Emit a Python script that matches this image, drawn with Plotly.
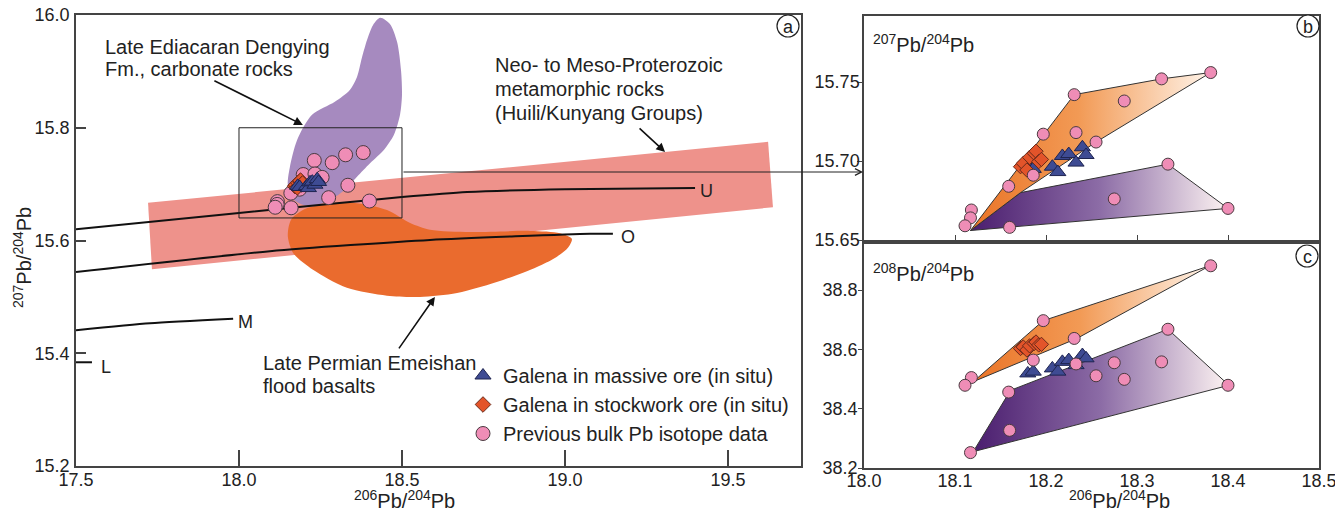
import plotly.graph_objects as go

# page body has an 8 px margin: the figure is sized to fill the rest of the window
OFF = 8
W, H = 1343 - OFF, 511 - OFF
FONT = "Arial, Liberation Sans, sans-serif"
INK = "#222222"

# ---------------- data ----------------
# previous bulk Pb isotope data (206/204, 207/204, 208/204)
circle_x = [18.381, 18.327, 18.231, 18.286, 18.197, 18.233, 18.255, 18.334,
            18.186, 18.159, 18.275, 18.400, 18.118, 18.117, 18.111, 18.160]
circle_y207 = [15.756, 15.752, 15.742, 15.738, 15.717, 15.718, 15.712, 15.698,
               15.691, 15.684, 15.676, 15.670, 15.669, 15.664, 15.659, 15.658]
circle_y208 = [38.882, 38.558, 38.637, 38.499, 38.697, 38.551, 38.511, 38.668,
               38.564, 38.456, 38.555, 38.479, 38.505, 38.252, 38.479, 38.327]

# galena in massive ore (in situ)
tri_x = [18.180, 18.186, 18.207, 18.213, 18.218, 18.225, 18.233, 18.240, 18.244]
tri_y207 = [15.6970, 15.6950, 15.6964, 15.6930, 15.7032, 15.7044, 15.6990, 15.7087, 15.7038]
tri_y208 = [38.519, 38.525, 38.536, 38.525, 38.558, 38.564, 38.547, 38.581, 38.570]

# galena in stockwork ore (in situ)
dia_x = [18.172, 18.175, 18.179, 18.182, 18.187, 18.189, 18.192, 18.195]
dia_y207 = [15.6964, 15.6985, 15.6943, 15.7023, 15.7049, 15.7062, 15.6996, 15.7010]
dia_y208 = [38.603, 38.608, 38.598, 38.612, 38.620, 38.625, 38.615, 38.617]

# fields of panel (a)
band_x = [17.721, 17.733, 19.638, 19.623, 17.721]
band_y = [15.667, 15.549, 15.659, 15.775, 15.667]

dengying_x = [18.433, 18.463, 18.485, 18.497, 18.500, 18.494, 18.475, 18.445, 18.402,
              18.362, 18.325, 18.279, 18.218, 18.169, 18.150, 18.156, 18.178, 18.224,
              18.294, 18.340, 18.362, 18.377, 18.393, 18.411, 18.433]
dengying_y = [15.995, 15.984, 15.952, 15.902, 15.858, 15.823, 15.787, 15.761, 15.737,
              15.713, 15.690, 15.672, 15.661, 15.672, 15.698, 15.730, 15.778, 15.823,
              15.846, 15.867, 15.890, 15.924, 15.956, 15.982, 15.995]

emeishan_x = [18.163, 18.202, 18.248, 18.350, 18.454, 18.525, 18.586, 18.709, 18.893,
              18.985, 19.021, 19.009, 18.969, 18.914, 18.810, 18.669, 18.555, 18.454,
              18.331, 18.227, 18.166, 18.150, 18.153, 18.163]
emeishan_y = [15.640, 15.656, 15.663, 15.667, 15.654, 15.631, 15.619, 15.615, 15.617,
              15.613, 15.603, 15.587, 15.569, 15.553, 15.530, 15.507, 15.500, 15.502,
              15.516, 15.548, 15.578, 15.606, 15.626, 15.640]

# growth curves
curve_U_x = [17.5, 18.0, 18.3, 18.5, 18.7, 19.0, 19.399]
curve_U_y = [15.620, 15.649, 15.666, 15.677, 15.686, 15.691, 15.693]
curve_O_x = [17.5, 18.095, 18.586, 19.077, 19.147]
curve_O_y = [15.544, 15.581, 15.601, 15.612, 15.612]
curve_M_x = [17.5, 17.727, 17.982]
curve_M_y = [15.441, 15.453, 15.461]
curve_L_x = [17.5, 17.549]
curve_L_y = [15.384, 15.384]

zoom_box_x = [18.0, 18.5]
zoom_box_y = [15.64, 15.80]

# hull fields of panels (b) and (c)
b_orange_x = [18.117, 18.231, 18.327, 18.381, 18.255, 18.172, 18.117]
b_orange_y = [15.656, 15.742, 15.752, 15.756, 15.712, 15.680, 15.656]
b_purple_x = [18.117, 18.172, 18.334, 18.400, 18.117]
b_purple_y = [15.656, 15.680, 15.698, 15.670, 15.656]
c_orange_x = [18.120, 18.197, 18.380, 18.234, 18.120]
c_orange_y = [38.491, 38.697, 38.882, 38.637, 38.491]
c_purple_x = [18.120, 18.161, 18.334, 18.401, 18.120]
c_purple_y = [38.255, 38.462, 38.668, 38.479, 38.255]

# ---------------- styles ----------------
PINK = "#EF8DB6"
TRI = "#3E4B93"
DIA = "#E3542A"
ORANGE_GRAD = [[0, "#EA7427"], [0.45, "#F29A55"], [1, "#FFF4EA"]]
PURPLE_GRAD = [[0, "#4A1D6E"], [0.5, "#8C6CA6"], [1, "#FDF3F2"]]

fig = go.Figure()

def px_x(p):
    return (p - OFF) / W

def px_y(p):
    return 1 - (p - OFF) / H

# ---------- panel (a) ----------
fig.add_trace(go.Scatter(x=band_x, y=band_y, fill="toself", mode="lines",
                         line=dict(width=0), fillcolor="#EE928B",
                         showlegend=False, hoverinfo="skip", xaxis="x", yaxis="y"))
fig.add_trace(go.Scatter(x=dengying_x, y=dengying_y, fill="toself", mode="lines",
                         line=dict(width=0, shape="spline", smoothing=0.8),
                         fillcolor="#A68ABF",
                         showlegend=False, hoverinfo="skip", xaxis="x", yaxis="y"))
fig.add_trace(go.Scatter(x=emeishan_x, y=emeishan_y, fill="toself", mode="lines",
                         line=dict(width=0, shape="spline", smoothing=0.8),
                         fillcolor="#EA6B2E",
                         showlegend=False, hoverinfo="skip", xaxis="x", yaxis="y"))
for cx, cy in [(curve_U_x, curve_U_y), (curve_O_x, curve_O_y),
               (curve_M_x, curve_M_y), (curve_L_x, curve_L_y)]:
    fig.add_trace(go.Scatter(x=cx, y=cy, mode="lines",
                             line=dict(color="#111111", width=2, shape="spline",
                                       smoothing=0.6),
                             showlegend=False, hoverinfo="skip", xaxis="x", yaxis="y"))

fig.add_trace(go.Scatter(x=circle_x, y=circle_y207, mode="markers",
                         name="Previous bulk Pb isotope data", legendrank=3,
                         marker=dict(symbol="circle", size=14, color=PINK,
                                     line=dict(color="#4a3a40", width=1)),
                         xaxis="x", yaxis="y"))
fig.add_trace(go.Scatter(x=dia_x, y=dia_y207, mode="markers",
                         name="Galena in stockwork ore (in situ)", legendrank=2,
                         marker=dict(symbol="diamond", size=12, color=DIA,
                                     line=dict(color="#6a2a1a", width=1)),
                         xaxis="x", yaxis="y"))
fig.add_trace(go.Scatter(x=tri_x, y=tri_y207, mode="markers",
                         name="Galena in massive ore (in situ)", legendrank=1,
                         marker=dict(symbol="triangle-up", size=14, color=TRI,
                                     line=dict(color="#1e2450", width=1)),
                         xaxis="x", yaxis="y"))

# ---------- panel (b) ----------
fig.add_trace(go.Scatter(x=b_purple_x, y=b_purple_y, fill="toself", mode="lines",
                         line=dict(color="#333333", width=1),
                         fillgradient=dict(type="horizontal", colorscale=PURPLE_GRAD),
                         showlegend=False, hoverinfo="skip", xaxis="x2", yaxis="y2"))
fig.add_trace(go.Scatter(x=b_orange_x, y=b_orange_y, fill="toself", mode="lines",
                         line=dict(color="#333333", width=1),
                         fillgradient=dict(type="horizontal", colorscale=ORANGE_GRAD),
                         showlegend=False, hoverinfo="skip", xaxis="x2", yaxis="y2"))
fig.add_trace(go.Scatter(x=tri_x, y=tri_y207, mode="markers", showlegend=False,
                         marker=dict(symbol="triangle-up", size=14, color=TRI,
                                     line=dict(color="#1e2450", width=1)),
                         xaxis="x2", yaxis="y2"))
fig.add_trace(go.Scatter(x=dia_x, y=dia_y207, mode="markers", showlegend=False,
                         marker=dict(symbol="diamond", size=11, color=DIA,
                                     line=dict(color="#6a2a1a", width=1)),
                         xaxis="x2", yaxis="y2"))
fig.add_trace(go.Scatter(x=circle_x, y=circle_y207, mode="markers", showlegend=False,
                         marker=dict(symbol="circle", size=12, color=PINK,
                                     line=dict(color="#4a3a40", width=1)),
                         xaxis="x2", yaxis="y2"))

# ---------- panel (c) ----------
fig.add_trace(go.Scatter(x=c_purple_x, y=c_purple_y, fill="toself", mode="lines",
                         line=dict(color="#333333", width=1),
                         fillgradient=dict(type="horizontal", colorscale=PURPLE_GRAD),
                         showlegend=False, hoverinfo="skip", xaxis="x3", yaxis="y3"))
fig.add_trace(go.Scatter(x=c_orange_x, y=c_orange_y, fill="toself", mode="lines",
                         line=dict(color="#333333", width=1),
                         fillgradient=dict(type="horizontal", colorscale=ORANGE_GRAD),
                         showlegend=False, hoverinfo="skip", xaxis="x3", yaxis="y3"))
fig.add_trace(go.Scatter(x=tri_x, y=tri_y208, mode="markers", showlegend=False,
                         marker=dict(symbol="triangle-up", size=14, color=TRI,
                                     line=dict(color="#1e2450", width=1)),
                         xaxis="x3", yaxis="y3"))
fig.add_trace(go.Scatter(x=dia_x, y=dia_y208, mode="markers", showlegend=False,
                         marker=dict(symbol="diamond", size=11, color=DIA,
                                     line=dict(color="#6a2a1a", width=1)),
                         xaxis="x3", yaxis="y3"))
fig.add_trace(go.Scatter(x=circle_x, y=circle_y208, mode="markers", showlegend=False,
                         marker=dict(symbol="circle", size=12, color=PINK,
                                     line=dict(color="#4a3a40", width=1)),
                         xaxis="x3", yaxis="y3"))

# ---------------- axes ----------------
tickfont = dict(family=FONT, size=18, color=INK)
axline = dict(showline=True, linecolor="#444444", linewidth=1.5, mirror=True,
              showgrid=False, zeroline=False, tickcolor="#444444", tickfont=tickfont,
              automargin=False, ticklabeloverflow="allow")

fig.update_layout(
    xaxis=dict(domain=[px_x(76), px_x(801)], range=[17.5, 19.724], anchor="y",
               tickvals=[17.5, 18.0, 18.5, 19.0, 19.5], tickformat=".1f",
               ticks="inside", ticklen=16, tickwidth=1.5, ticklabelstandoff=-3, **axline),
    yaxis=dict(domain=[px_y(466), px_y(15)], range=[15.2, 16.0], anchor="x",
               tickvals=[15.2, 15.4, 15.6, 15.8, 16.0], tickformat=".1f",
               ticks="inside", ticklen=10, tickwidth=1.5, ticklabelstandoff=1, **axline),
    xaxis2=dict(domain=[px_x(864), px_x(1319)], range=[18.0, 18.5], anchor="y2",
                tickvals=[18.1, 18.2, 18.3, 18.4], showticklabels=False,
                ticks="inside", ticklen=5, tickwidth=1, **axline),
    yaxis2=dict(domain=[px_y(240), px_y(16)], range=[15.65, 15.7918], anchor="x2",
                tickvals=[15.65, 15.70, 15.75], tickformat=".2f",
                ticks="outside", ticklen=5, tickwidth=1, ticklabelstandoff=-6, **axline),
    xaxis3=dict(domain=[px_x(864), px_x(1319)], range=[18.0, 18.5], anchor="y3",
                tickvals=[18.0, 18.1, 18.2, 18.3, 18.4, 18.5], tickformat=".1f",
                ticks="", ticklabelstandoff=-4, **axline),
    yaxis3=dict(domain=[px_y(468), px_y(244)], range=[38.2, 38.9555], anchor="x3",
                tickvals=[38.2, 38.4, 38.6, 38.8], tickformat=".1f",
                ticks="outside", ticklen=4, tickwidth=1, ticklabelstandoff=-3, **axline),
)

# ---------------- annotations ----------------
ann = []

def text(x, y, s, size=20, anchor="left", angle=0):
    ann.append(dict(x=px_x(x), y=px_y(y), xref="paper", yref="paper", text=s,
                    showarrow=False, xanchor=anchor, yanchor="middle", textangle=angle,
                    font=dict(family=FONT, size=size, color=INK)))

text(103, 47, "Late Ediacaran Dengying")
text(103, 69, "Fm., carbonate rocks")
text(493, 65, "Neo- to Meso-Proterozoic")
text(493, 89, "metamorphic rocks")
text(493, 113, "(Huili/Kunyang Groups)")
text(261, 363, "Late Permian Emeishan")
text(261, 386, "flood basalts")

# axis titles
text(404, 499, "<sup>206</sup>Pb/<sup>204</sup>Pb", size=20, anchor="center")
text(1119, 499, "<sup>206</sup>Pb/<sup>204</sup>Pb", size=20, anchor="center")
text(22, 258, "<sup>207</sup>Pb/<sup>204</sup>Pb", size=20, anchor="center", angle=-90)
text(871, 43, "<sup>207</sup>Pb/<sup>204</sup>Pb", size=20)
text(871, 272, "<sup>208</sup>Pb/<sup>204</sup>Pb", size=20)

# curve labels
for lab, cx, cy, xs, ys in [("U", curve_U_x, curve_U_y, 3, -3),
                           ("O", curve_O_x, curve_O_y, 6, -3),
                           ("M", curve_M_x, curve_M_y, 3, -3),
                           ("L", curve_L_x, curve_L_y, 7, -5)]:
    ann.append(dict(x=cx[-1], y=cy[-1], xref="x", yref="y", text=lab, showarrow=False,
                    xanchor="left", yanchor="middle", xshift=xs, yshift=ys,
                    font=dict(family=FONT, size=18, color=INK)))

# pointer arrows
for hx, hy, axp, ayp in [(18.196, 15.805, -90, -45),
                         (19.307, 15.757, -27, -25),
                         (18.601, 15.500, -37, 53)]:
    ann.append(dict(x=hx, y=hy, xref="x", yref="y", ax=axp, ay=ayp, text="",
                    showarrow=True, arrowhead=2, arrowsize=1.1, arrowwidth=1.6,
                    arrowcolor="#111111"))

# connector from zoom box to panel (b)
ann.append(dict(x=px_x(863), y=px_y(172), xref="paper", yref="paper",
                ax=-(863 - 402), ay=0, text="", showarrow=True, arrowhead=5,
                arrowsize=1.3, arrowwidth=1, arrowcolor="#222222"))

# circled panel letters
shapes = []
for lab, cxp, cyp in [("a", 788, 26), ("b", 1308, 26), ("c", 1307, 256)]:
    shapes.append(dict(type="circle", xref="paper", yref="paper",
                       x0=px_x(cxp - 11), x1=px_x(cxp + 11),
                       y0=px_y(cyp + 11), y1=px_y(cyp - 11),
                       line=dict(color="#222222", width=1.2), fillcolor="white"))
    ann.append(dict(x=px_x(cxp), y=px_y(cyp + 1), xref="paper", yref="paper", text=lab,
                    showarrow=False, xanchor="center", yanchor="middle",
                    font=dict(family=FONT, size=18, color=INK)))

# zoom box in panel (a)
shapes.append(dict(type="rect", xref="x", yref="y", x0=zoom_box_x[0], x1=zoom_box_x[1],
                   y0=zoom_box_y[0], y1=zoom_box_y[1],
                   line=dict(color="#222222", width=1)))

fig.update_layout(
    width=W, height=H, margin=dict(l=0, r=0, t=0, b=0, autoexpand=False),
    paper_bgcolor="white", plot_bgcolor="rgba(0,0,0,0)",
    font=dict(family=FONT, color=INK),
    annotations=ann, shapes=shapes,
    legend=dict(x=px_x(463), y=px_y(356), xanchor="left", yanchor="top",
                bgcolor="rgba(0,0,0,0)", borderwidth=0, itemwidth=30,
                font=dict(family=FONT, size=20, color=INK), tracegroupgap=0),
    showlegend=True,
)

fig.write_html("out.html")
